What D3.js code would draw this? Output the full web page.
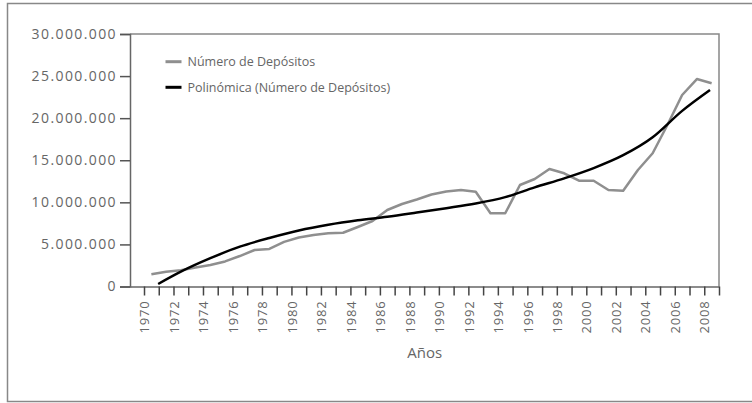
<!DOCTYPE html>
<html>
<head>
<meta charset="utf-8">
<script src="https://cdn.jsdelivr.net/npm/d3@7"></script>
<style>
  body { margin: 0; background: #fff; }
  text { font-family: "Open Sans", sans-serif; fill: #666; }
</style>
</head>
<body>
<div class="chart"></div>
<script>
// Data
const years = d3.range(1970, 2009);
const depositos = [
    1.45, 1.75, 1.94, 2.25, 2.55, 2.98, 3.62, 4.34, 4.46, 5.30,
    5.82, 6.12, 6.33, 6.39, 7.07, 7.78, 9.09, 9.80, 10.34, 10.93,
    11.29, 11.47, 11.26, 8.70, 8.70, 12.06, 12.77, 13.96, 13.45, 12.57,
    12.57, 11.47, 11.38, 13.84, 15.83, 19.19, 22.75, 24.65, 24.14
].map(v => v * 1e6);

// trend line
const trendYears = [1970.46, 1972, 1974, 1976, 1978, 1980, 1982, 1984, 1986, 1988,
    1990, 1992, 1994, 1996, 1998, 2000, 2002, 2004, 2006, 2007.89];
const trendValues = [0.30, 1.76, 3.36, 4.73, 5.76, 6.65, 7.33, 7.86, 8.28, 8.78,
    9.30, 9.86, 10.62, 11.78, 12.85, 14.07, 15.60, 17.73, 20.87, 23.35].map(v => v * 1e6);

const yTicks = [0, 5e6, 10e6, 15e6, 20e6, 25e6, 30e6];
const xTicks = d3.range(1970, 2010);

const legendItems = [
    { label: "Número de Depósitos", color: "#8f8f8f" },
    { label: "Polinómica (Número de Depósitos)", color: "#000" }
];

// Layout
const W = 752, H = 403;
const plot = { left: 130, right: 719, top: 34, bottom: 286.5 };

const svg = d3.select('.chart')
    .append('svg')
    .attr('width', W)
    .attr('height', H);

// outer frame
svg.append('rect')
    .attr('x', 7.5).attr('y', 3.5)
    .attr('width', 780).attr('height', 398)
    .attr('fill', 'none')
    .attr('stroke', '#888')
    .attr('stroke-width', 1.5);

const x = d3.scaleLinear()
    .domain([1969.05, 2009])
    .range([plot.left, plot.right]);

const y = d3.scaleLinear()
    .domain([0, 30e6])
    .range([plot.bottom, plot.top]);

const locale = d3.formatLocale({ decimal: ",", thousands: ".", grouping: [3], currency: ["", ""] });
const fmt = locale.format(",d");

// plot border (top / right)
svg.append('path')
    .attr('d', `M${plot.left},${plot.top}H${plot.right}V${plot.bottom}`)
    .attr('fill', 'none')
    .attr('stroke', '#888')
    .attr('stroke-width', 1.5);

// Y axis
const yAxis = svg.append('g')
    .attr('transform', `translate(${plot.left},0)`)
    .call(d3.axisLeft(y).tickValues(yTicks).tickFormat(fmt).tickSize(10).tickPadding(3));

yAxis.select('.domain').attr('stroke', '#666').attr('stroke-width', 1.5);
yAxis.selectAll('.tick line').attr('stroke', '#555').attr('stroke-width', 1.5);
yAxis.selectAll('.tick text')
    .attr('font-size', 14)
    .attr('letter-spacing', 1.4)
    .attr('fill', '#666');

// X axis
const xAxis = svg.append('g')
    .attr('transform', `translate(0,${plot.bottom})`)
    .call(d3.axisBottom(x).tickValues(xTicks)
        .tickFormat(d => (d % 2 === 0 && d < 2009) ? d : '')
        .tickSize(9).tickSizeOuter(0));

xAxis.select('.domain').attr('stroke', '#666').attr('stroke-width', 1.5);
xAxis.selectAll('.tick line').attr('stroke', '#444').attr('stroke-width', 1.5);
xAxis.selectAll('.tick text')
    .attr('font-size', 13)
    .attr('letter-spacing', 0.8)
    .attr('fill', '#666')
    .attr('text-anchor', 'end')
    .attr('transform', 'rotate(-90)')
    .attr('x', -14)
    .attr('y', 0)
    .attr('dy', '0.36em');

// axis title
svg.append('text')
    .attr('x', 424.7)
    .attr('y', 357.5)
    .attr('text-anchor', 'middle')
    .attr('font-size', 15)
    .text('Años');

// Lines
const line = d3.line()
    .x(d => x(d[0] + 0.5))
    .y(d => y(d[1]));

svg.append('path')
    .datum(years.map((yr, i) => [yr, depositos[i]]))
    .attr('d', line)
    .attr('fill', 'none')
    .attr('stroke', legendItems[0].color)
    .attr('stroke-width', 2.5)
    .attr('stroke-linejoin', 'round');

svg.append('path')
    .datum(trendYears.map((yr, i) => [yr, trendValues[i]]))
    .attr('d', line.curve(d3.curveMonotoneX))
    .attr('fill', 'none')
    .attr('stroke', legendItems[1].color)
    .attr('stroke-width', 2.5);

// Legend
const legend = svg.selectAll('.legend')
    .data(legendItems)
    .join('g')
    .attr('class', 'legend')
    .attr('transform', (d, i) => `translate(165.5,${61.7 + i * 25.6})`);

legend.append('line')
    .attr('x1', 0).attr('x2', 16)
    .attr('stroke', d => d.color)
    .attr('stroke-width', 3);

legend.append('text')
    .attr('x', 22)
    .attr('dy', '0.35em')
    .attr('font-size', 12.5)
    .text(d => d.label);
</script>
</body>
</html>
